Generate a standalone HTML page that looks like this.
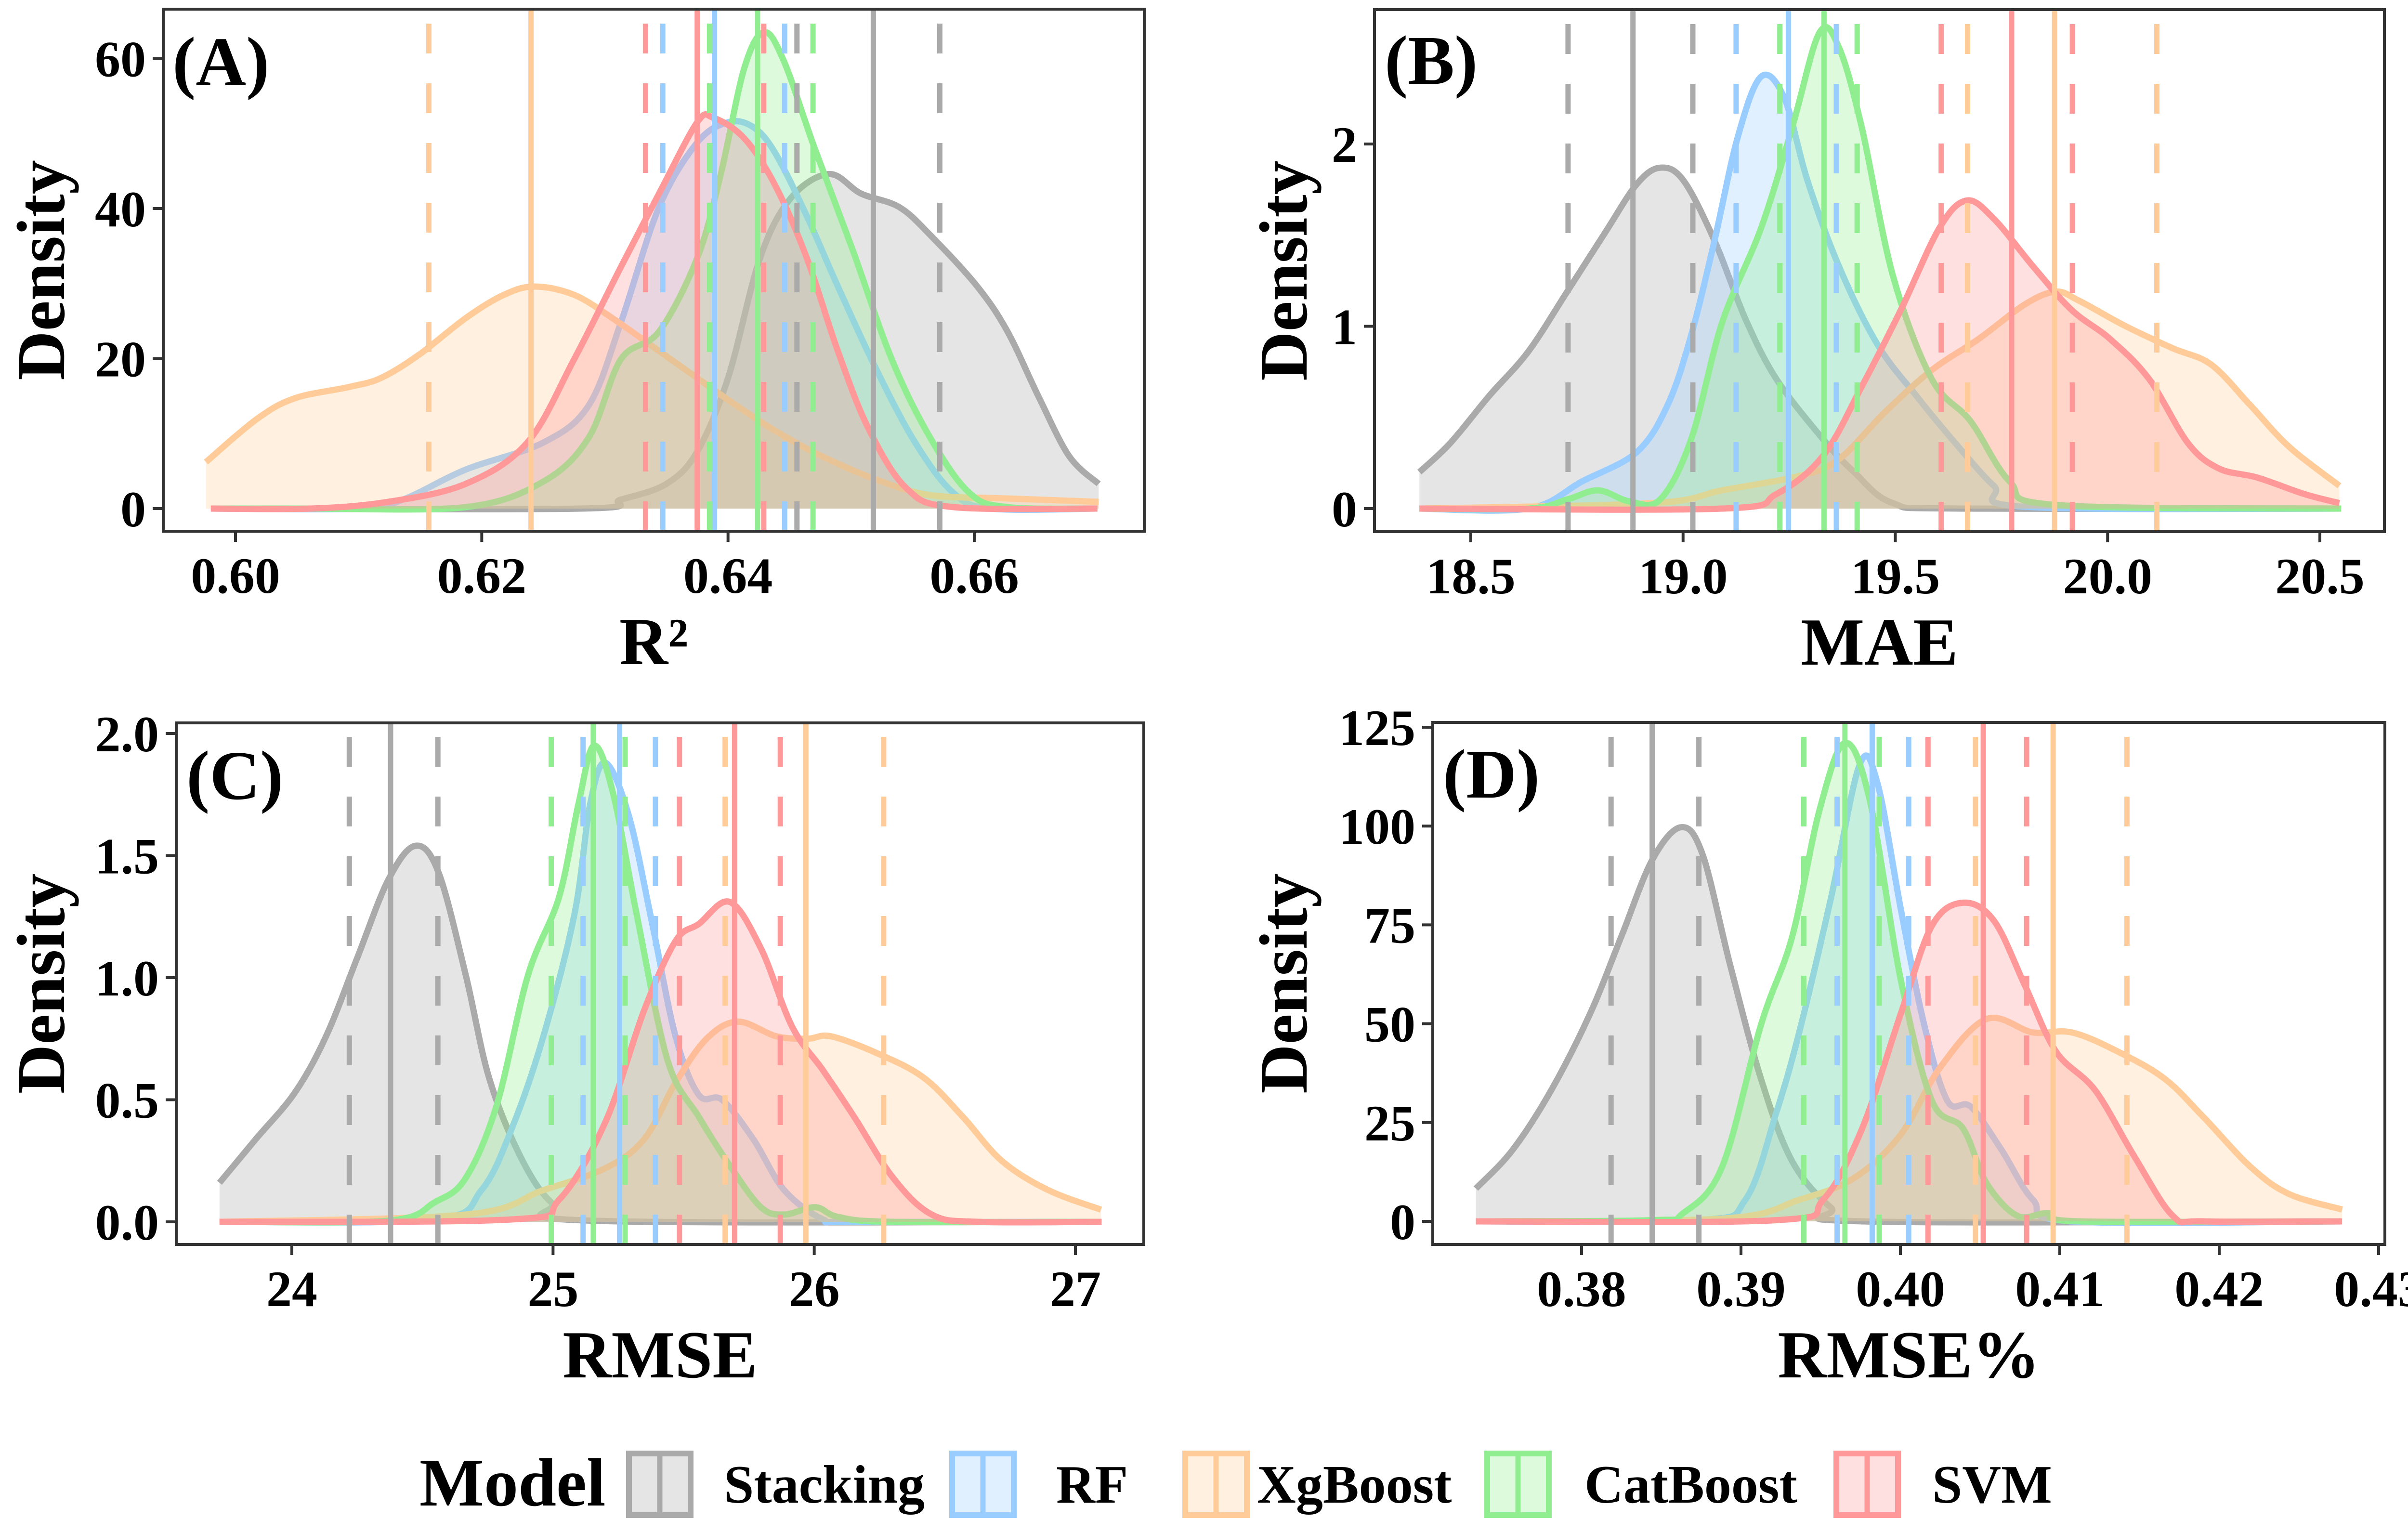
<!DOCTYPE html>
<html><head><meta charset="utf-8"><style>
html,body{margin:0;padding:0;background:#fff;}
svg{display:block;font-family:"Liberation Serif","Times New Roman",serif;font-weight:bold;}
</style></head><body>
<svg id="chart" xmlns="http://www.w3.org/2000/svg" width="5056" height="3181" viewBox="0 0 5056 3181">
<rect x="0" y="0" width="5056" height="3181" fill="#fff"/>
<g id="panels"></g>
<g id="legend">
  <text x="871" y="3126" font-size="142" fill="#000">Model</text>
</g>
</svg>
<script>
// ---------- data ----------
const models = ["Stacking","RF","XgBoost","CatBoost","SVM"];
// Panel A (R²)
const A_xticks = [0.60,0.62,0.64,0.66];
const A_yticks = [0,20,40,60];
const A_Stacking_x = [0.598,0.628,0.6313,0.635,0.6375,0.640,0.6426,0.6451,0.6482,0.6508,0.6539,0.6564,0.6602,0.6627,0.6652,0.6677,0.6701];
const A_Stacking_y = [0,0,1.2,3.3,7.6,17.4,33.4,41.4,44.6,42,40.2,36.5,29.7,23.6,15,7,3.3];
const A_RF_x = [0.598,0.610,0.6136,0.6187,0.625,0.6287,0.6313,0.6344,0.6375,0.640,0.642,0.6438,0.6464,0.6489,0.652,0.6552,0.6583,0.6614,0.670];
const A_RF_y = [0,0,1.2,5.2,8.8,13.8,24.8,40.2,48.8,51.5,50.9,47.5,39,29.7,18.7,8.8,2.1,0,0];
const A_XgBoost_x = [0.5976,0.6017,0.6048,0.6092,0.6118,0.6149,0.6187,0.6218,0.6243,0.6275,0.6306,0.6338,0.6369,0.6401,0.6438,0.6476,0.652,0.6564,0.6627,0.6701];
const A_XgBoost_y = [6.2,11.9,14.7,16.2,17.4,20.5,25.4,28.5,29.6,28.5,25.4,21.7,18.1,14.4,10.4,7.0,3.9,1.8,1.35,0.9];
const A_CatBoost_x = [0.598,0.6061,0.6187,0.625,0.6287,0.6313,0.6344,0.6375,0.6394,0.6413,0.6429,0.6445,0.647,0.6501,0.6533,0.6564,0.6596,0.6627,0.670];
const A_CatBoost_y = [0,0,0.2,3.6,9.5,19.9,23.6,33.4,44.5,58.6,63.5,59.8,48.2,34.6,19.9,9.5,2.1,0.2,0];
const A_SVM_x = [0.598,0.6061,0.6124,0.6187,0.6237,0.6275,0.6313,0.6344,0.6375,0.6388,0.6413,0.6438,0.6464,0.6489,0.6514,0.6545,0.6583,0.670];
const A_SVM_y = [0,0,0.9,3.3,8.8,19.9,32.2,42,51.5,52.1,49.4,43.2,33.4,21.1,10.7,2.7,0.2,0];
const A_Stacking_ci = [0.6456,0.6518,0.6572];
const A_RF_ci = [0.6347,0.6389,0.6446];
const A_XgBoost_ci = [0.6157,0.6240,0.6333];
const A_CatBoost_ci = [0.6385,0.6424,0.6469];
const A_SVM_ci = [0.6333,0.6375,0.6429];
// Panel B (MAE)
const B_xticks = [18.5,19.0,19.5,20.0,20.5];
const B_yticks = [0,1,2];
const B_Stacking_x = [18.379,18.452,18.544,18.635,18.727,18.818,18.891,18.946,19.001,19.074,19.147,19.220,19.330,19.403,19.494,19.659,20.55];
const B_Stacking_y = [0.2,0.36,0.62,0.86,1.19,1.52,1.78,1.87,1.80,1.47,1.04,0.71,0.38,0.2,0.03,0,0];
const B_RF_x = [18.379,18.635,18.763,18.891,18.964,19.019,19.074,19.129,19.184,19.239,19.293,19.367,19.458,19.549,19.641,19.732,19.805,20.55];
const B_RF_y = [0,0,0.15,0.31,0.57,0.95,1.47,2.04,2.37,2.25,1.8,1.33,0.9,0.62,0.36,0.125,0.01,0];
const B_XgBoost_x = [18.379,18.928,19.092,19.275,19.367,19.476,19.586,19.696,19.805,19.878,19.933,20.043,20.153,20.244,20.335,20.427,20.546];
const B_XgBoost_y = [0,0.03,0.1,0.18,0.27,0.53,0.76,0.93,1.12,1.19,1.14,1.0,0.88,0.79,0.57,0.34,0.125];
const B_CatBoost_x = [18.379,18.635,18.727,18.8,18.873,18.946,19.019,19.092,19.184,19.257,19.321,19.367,19.421,19.494,19.586,19.677,19.769,19.878,20.55];
const B_CatBoost_y = [0,0,0.05,0.1,0.04,0.05,0.38,1.02,1.54,2.09,2.61,2.53,2.09,1.28,0.71,0.48,0.15,0.02,0];
const B_SVM_x = [18.379,19.092,19.220,19.330,19.421,19.513,19.604,19.668,19.732,19.824,19.915,20.006,20.098,20.189,20.262,20.353,20.463,20.546];
const B_SVM_y = [0,0,0.08,0.29,0.67,1.09,1.54,1.69,1.59,1.33,1.09,0.93,0.71,0.36,0.22,0.17,0.08,0.03];
const B_Stacking_ci = [18.729,18.882,19.023];
const B_RF_ci = [19.125,19.248,19.361];
const B_XgBoost_ci = [19.670,19.875,20.116];
const B_CatBoost_ci = [19.228,19.332,19.410];
const B_SVM_ci = [19.608,19.774,19.917];
// Panel C (RMSE)
const C_xticks = [24,25,26,27];
const C_yticks = [0.0,0.5,1.0,1.5,2.0];
const C_Stacking_x = [23.723,23.863,24.012,24.131,24.25,24.369,24.473,24.562,24.666,24.755,24.874,24.993,25.142,27.1];
const C_Stacking_y = [0.16,0.34,0.53,0.76,1.08,1.40,1.54,1.43,1.01,0.59,0.27,0.08,0.005,0];
const C_RF_x = [23.723,24.547,24.726,24.845,24.963,25.082,25.142,25.201,25.291,25.380,25.469,25.558,25.647,25.766,25.885,26.034,26.153,27.1];
const C_RF_y = [0,0.01,0.13,0.39,0.76,1.26,1.71,1.88,1.66,1.22,0.76,0.52,0.50,0.34,0.13,0.01,0,0];
const C_XgBoost_x = [23.723,24.666,24.963,25.201,25.35,25.469,25.588,25.707,25.855,25.974,26.064,26.242,26.42,26.569,26.718,26.896,27.098];
const C_XgBoost_y = [0,0.03,0.13,0.22,0.34,0.57,0.75,0.82,0.76,0.75,0.76,0.69,0.59,0.43,0.25,0.13,0.05];
const C_CatBoost_x = [23.723,24.369,24.547,24.666,24.785,24.904,25.023,25.097,25.157,25.231,25.32,25.439,25.558,25.677,25.796,25.885,26.004,26.093,26.3,27.1];
const C_CatBoost_y = [0,0.005,0.08,0.18,0.48,1.01,1.33,1.71,1.95,1.75,1.26,0.66,0.43,0.23,0.06,0.03,0.06,0.02,0,0];
const C_SVM_x = [23.723,24.845,25.023,25.201,25.35,25.469,25.558,25.677,25.796,25.915,26.034,26.153,26.302,26.45,26.629,27.1];
const C_SVM_y = [0,0.01,0.09,0.41,0.87,1.15,1.22,1.31,1.12,0.80,0.62,0.43,0.18,0.03,0,0];
const C_Stacking_ci = [24.22,24.378,24.559];
const C_RF_ci = [25.115,25.255,25.392];
const C_XgBoost_ci = [25.659,25.968,26.266];
const C_CatBoost_ci = [24.993,25.154,25.276];
const C_SVM_ci = [25.484,25.695,25.87];
// Panel D (RMSE%)
const D_xticks = [0.38,0.39,0.40,0.41,0.42,0.43];
const D_yticks = [0,25,50,75,100,125];
const D_Stacking_x = [0.37337,0.37566,0.3781,0.38054,0.38249,0.38443,0.38624,0.3876,0.38931,0.39126,0.39321,0.39564,0.3976,0.4277];
const D_Stacking_y = [8.3,18,33.2,52.6,72,91.4,99.7,92.7,65,36,15.2,3.5,0,0];
const D_RF_x = [0.37337,0.38736,0.39028,0.39223,0.39369,0.39564,0.39745,0.39857,0.40003,0.40149,0.40295,0.40442,0.40636,0.40831,0.41075,0.4277];
const D_RF_y = [0,0.3,5.5,27.7,48.4,81.7,115.6,110.7,78.9,49.8,30.5,29,18,5.5,0,0];
const D_XgBoost_x = [0.37337,0.38882,0.39369,0.39711,0.40003,0.40247,0.4054,0.40831,0.41075,0.41367,0.4166,0.41903,0.42196,0.42439,0.42771];
const D_XgBoost_y = [0,0.7,5.5,11,22,38.8,51.2,47.8,47.8,42.9,36,26.3,13.8,6.9,3];
const D_CatBoost_x = [0.37337,0.38443,0.38638,0.38882,0.39126,0.39321,0.39491,0.39652,0.39808,0.40003,0.40198,0.40393,0.4054,0.40734,0.40929,0.41124,0.4277];
const D_CatBoost_y = [0,0.3,2.1,13.8,49.8,72,103.8,121,106.5,61,30.5,23.5,9.7,1.4,2.1,0,0];
const D_SVM_x = [0.37337,0.39223,0.39516,0.3976,0.40003,0.40198,0.40393,0.40588,0.40783,0.40977,0.41221,0.41465,0.41709,0.41903,0.4277];
const D_SVM_y = [0,0.3,5.5,23.5,52.6,74.8,80.6,76,59.5,42.9,33.2,16.6,1.4,0,0];
const D_Stacking_ci = [0.38185,0.38443,0.38736];
const D_RF_ci = [0.39603,0.39823,0.40052];
const D_XgBoost_ci = [0.40471,0.40958,0.41421];
const D_CatBoost_ci = [0.39394,0.39652,0.39867];
const D_SVM_ci = [0.40173,0.4052,0.40792];

// ---------- rendering ----------
const NS = "http://www.w3.org/2000/svg";
const lineCol = {Stacking:"#AAAAAA",RF:"#99CCFF",XgBoost:"#FFCC99",CatBoost:"#90EE90",SVM:"#FF9999"};
const D = {
 A:{xs:{Stacking:A_Stacking_x,RF:A_RF_x,XgBoost:A_XgBoost_x,CatBoost:A_CatBoost_x,SVM:A_SVM_x},
    ys:{Stacking:A_Stacking_y,RF:A_RF_y,XgBoost:A_XgBoost_y,CatBoost:A_CatBoost_y,SVM:A_SVM_y},
    ci:{Stacking:A_Stacking_ci,RF:A_RF_ci,XgBoost:A_XgBoost_ci,CatBoost:A_CatBoost_ci,SVM:A_SVM_ci},
    xt:A_xticks,yt:A_yticks,xfmt:v=>v.toFixed(2),yfmt:v=>String(v),title:"R²",label:"(A)",
    box:[339,19,2376,1103],x0:[0.60,489],x1:[0.66,2023],y0:[0,1056],y1:[60,121.5],lab:[358,177],dens:85},
 B:{xs:{Stacking:B_Stacking_x,RF:B_RF_x,XgBoost:B_XgBoost_x,CatBoost:B_CatBoost_x,SVM:B_SVM_x},
    ys:{Stacking:B_Stacking_y,RF:B_RF_y,XgBoost:B_XgBoost_y,CatBoost:B_CatBoost_y,SVM:B_SVM_y},
    ci:{Stacking:B_Stacking_ci,RF:B_RF_ci,XgBoost:B_XgBoost_ci,CatBoost:B_CatBoost_ci,SVM:B_SVM_ci},
    xt:B_xticks,yt:B_yticks,xfmt:v=>v.toFixed(1),yfmt:v=>String(v),title:"MAE",label:"(B)",
    box:[2854,20,4951,1104],x0:[18.5,3054],x1:[20.5,4817],y0:[0,1056],y1:[2,299],lab:[2875,174],dens:2665},
 C:{xs:{Stacking:C_Stacking_x,RF:C_RF_x,XgBoost:C_XgBoost_x,CatBoost:C_CatBoost_x,SVM:C_SVM_x},
    ys:{Stacking:C_Stacking_y,RF:C_RF_y,XgBoost:C_XgBoost_y,CatBoost:C_CatBoost_y,SVM:C_SVM_y},
    ci:{Stacking:C_Stacking_ci,RF:C_RF_ci,XgBoost:C_XgBoost_ci,CatBoost:C_CatBoost_ci,SVM:C_SVM_ci},
    xt:C_xticks,yt:C_yticks,xfmt:v=>String(v),yfmt:v=>v.toFixed(1),title:"RMSE",label:"(C)",
    box:[366,1501,2375,2584],x0:[24,606],x1:[27,2233],y0:[0,2537],y1:[2,1523],lab:[387,1659],dens:85},
 D:{xs:{Stacking:D_Stacking_x,RF:D_RF_x,XgBoost:D_XgBoost_x,CatBoost:D_CatBoost_x,SVM:D_SVM_x},
    ys:{Stacking:D_Stacking_y,RF:D_RF_y,XgBoost:D_XgBoost_y,CatBoost:D_CatBoost_y,SVM:D_SVM_y},
    ci:{Stacking:D_Stacking_ci,RF:D_RF_ci,XgBoost:D_XgBoost_ci,CatBoost:D_CatBoost_ci,SVM:D_SVM_ci},
    xt:D_xticks,yt:D_yticks,xfmt:v=>v.toFixed(2),yfmt:v=>String(v),title:"RMSE%",label:"(D)",
    box:[2975,1500,4952,2584],x0:[0.38,3284],x1:[0.43,4939],y0:[0,2536],y1:[125,1510],lab:[2996,1656],dens:2665}
};
function mk(tag,attrs,parent){const e=document.createElementNS(NS,tag);for(const k in attrs)e.setAttribute(k,attrs[k]);if(parent)parent.appendChild(e);return e;}
function smooth(pts){
  let d="M"+pts[0][0].toFixed(1)+","+pts[0][1].toFixed(1);
  for(let i=0;i<pts.length-1;i++){
    const p0=pts[Math.max(0,i-1)],p1=pts[i],p2=pts[i+1],p3=pts[Math.min(pts.length-1,i+2)];
    const c1=[p1[0]+(p2[0]-p0[0])/6,p1[1]+(p2[1]-p0[1])/6];
    const c2=[p2[0]-(p3[0]-p1[0])/6,p2[1]-(p3[1]-p1[1])/6];
    d+=" C"+c1[0].toFixed(1)+","+c1[1].toFixed(1)+" "+c2[0].toFixed(1)+","+c2[1].toFixed(1)+" "+p2[0].toFixed(1)+","+p2[1].toFixed(1);
  }
  return d;
}
const root=document.getElementById("panels");
for(const key of ["A","B","C","D"]){
  const P=D[key];
  const sx=v=>P.x0[1]+(v-P.x0[0])*(P.x1[1]-P.x0[1])/(P.x1[0]-P.x0[0]);
  const sy=v=>P.y0[1]+(v-P.y0[0])*(P.y1[1]-P.y0[1])/(P.y1[0]-P.y0[0]);
  const [L,T,R,B]=P.box;
  const g=mk("g",{},root);
  
  
  const clipId="clip"+key;
  const cp=mk("clipPath",{id:clipId},g); mk("rect",{x:L,y:T,width:R-L,height:B-T},cp);
  const plot=mk("g",{"clip-path":"url(#"+clipId+")"},g);
  for(const m of models){
    const xs=P.xs[m],ys=P.ys[m];
    const pts=xs.map((x,i)=>[sx(x),Math.min(sy(ys[i]),sy(0))]);
    const line=smooth(pts);
    const area=mk("path",{d:line+" L"+pts[pts.length-1][0].toFixed(1)+","+sy(0).toFixed(1)+" L"+pts[0][0].toFixed(1)+","+sy(0).toFixed(1)+" Z",fill:lineCol[m],"fill-opacity":"0.3",stroke:"none"},plot);
    
    
    const ln=mk("path",{d:line,fill:"none",stroke:lineCol[m],"stroke-width":"13","stroke-linejoin":"round"},plot);
    
    
  }
  for(const m of models){
    const ci=P.ci[m];
    ci.forEach((v,i)=>{
      const x=sx(v).toFixed(1);
      const attrs={x1:x,x2:x,y1:B,y2:T,stroke:lineCol[m],"stroke-width":"11"};
      if(i!==1)attrs["stroke-dasharray"]="62 62";
      const vl=mk("line",attrs,plot);
      
      
    });
  }
  const frame=mk("rect",{x:L,y:T,width:R-L,height:B-T,fill:"none",stroke:"#333","stroke-width":"6"},g);
  
  
  for(const v of P.xt){
    const x=sx(v);
    const tk=mk("line",{x1:x,x2:x,y1:B,y2:B+22,stroke:"#333","stroke-width":"6"},g);
    
    
    const t=mk("text",{x:x,y:B+128,"text-anchor":"middle","font-size":"106",fill:"#000"},g);
    t.textContent=P.xfmt(v);
    
    
  }
  for(const v of P.yt){
    const y=sy(v);
    const tk=mk("line",{x1:L-22,x2:L,y1:y,y2:y,stroke:"#333","stroke-width":"6"},g);
    
    
    const t=mk("text",{x:L-36,y:y+37,"text-anchor":"end","font-size":"106",fill:"#000"},g);
    t.textContent=P.yfmt(v);
    
    
  }
  const lab=mk("text",{x:P.lab[0],y:P.lab[1],"font-size":"145",fill:"#000"},g);
  lab.textContent=P.label;
  
  
  const xt=mk("text",{x:(L+R)/2,y:B+276,"text-anchor":"middle","font-size":"140",fill:"#000"},g);
  xt.textContent=P.title;
  
  
  const cy=(T+B)/2;
  const yt=mk("text",{x:P.dens,y:cy,"text-anchor":"middle","dominant-baseline":"central","font-size":"142",fill:"#000",transform:"rotate(-90 "+P.dens+" "+cy+")"},g);
  yt.textContent="Density";
  
  
}
// legend
const legG=document.getElementById("legend");
const keyX=[1300,1971,2455,3082,3807];
const txtX=[1503,2193,2610,3290,4012];
models.forEach((m,i)=>{
  const k=mk("g",{},legG);
  
  
  mk("rect",{x:keyX[i]+6,y:3018,width:128,height:128,fill:lineCol[m],"fill-opacity":"0.3",stroke:lineCol[m],"stroke-width":"12"},k);
  mk("line",{x1:keyX[i]+70,x2:keyX[i]+70,y1:3012,y2:3152,stroke:lineCol[m],"stroke-width":"11"},k);
  const t=mk("text",{x:txtX[i],y:3120,"font-size":"112",fill:"#000"},k);
  t.textContent=m;
});
</script>
</body></html>
